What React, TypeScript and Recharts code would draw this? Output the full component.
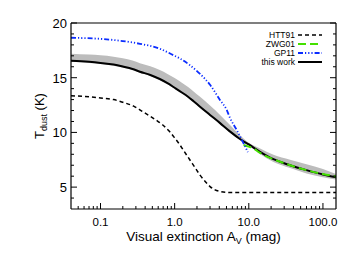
import React from 'react';
import { ComposedChart, Line, Area, XAxis, YAxis, Legend, Label } from 'recharts';

const FONT = '"Liberation Sans", Arial, Helvetica, sans-serif';

// HTT91 (black dashed)
const htt91Av = [0.04, 0.07, 0.1, 0.15, 0.2, 0.28, 0.36, 0.45, 0.57, 0.7, 0.86, 1.0, 1.18, 1.35, 1.6, 1.9, 2.2, 2.6, 3.0, 3.5, 4.1, 4.8, 5.5, 10, 150];
const htt91T = [13.35, 13.25, 13.15, 13.0, 12.75, 12.4, 11.95, 11.55, 11.1, 10.65, 10.05, 9.5, 8.85, 8.25, 7.5, 6.75, 6.1, 5.5, 5.05, 4.75, 4.6, 4.52, 4.5, 4.5, 4.5];

// this work (black solid) + grey uncertainty band
const workAv = [0.04, 0.07, 0.1, 0.15, 0.2, 0.27, 0.34, 0.47, 0.63, 0.8, 1.0, 1.25, 1.5, 1.8, 2.2, 3.0, 4.1, 5.5, 7.6, 10, 14, 21.5, 36, 60, 100, 150];
const workT = [16.55, 16.45, 16.35, 16.2, 16.02, 15.8, 15.55, 15.25, 14.88, 14.5, 14.08, 13.65, 13.28, 12.85, 12.35, 11.6, 10.85, 10.12, 9.4, 8.9, 8.25, 7.55, 7.0, 6.55, 6.15, 5.9];
const bandLow = [16.45, 16.35, 16.25, 16.1, 15.92, 15.7, 15.45, 15.15, 14.78, 14.4, 13.98, 13.55, 13.18, 12.75, 12.25, 11.5, 10.75, 10.02, 9.3, 8.8, 8.05, 7.3, 6.75, 6.25, 5.9, 5.7];
const bandHigh = [17.2, 17.12, 17.05, 16.92, 16.77, 16.57, 16.33, 16.05, 15.7, 15.35, 14.98, 14.55, 14.18, 13.75, 13.25, 12.45, 11.6, 10.72, 9.75, 9.05, 8.55, 7.95, 7.5, 7.1, 6.65, 6.2];

// GP11 (blue dash-dot-dot)
const gp11Av = [0.04, 0.1, 0.2, 0.34, 0.63, 1.0, 1.18, 1.6, 2.2, 3.0, 4.1, 5.0, 5.6, 6.9, 8.5, 9.7];
const gp11T = [18.65, 18.55, 18.35, 18.1, 17.65, 17.0, 16.75, 16.15, 15.35, 14.35, 12.95, 12.1, 11.3, 10.2, 9.0, 8.2];

// ZWG01 (green dashed)
const zwgAv = [8.5, 10, 11.5, 14, 21.5, 36, 60, 100, 150];
const zwgT = [8.85, 8.7, 8.55, 8.15, 7.55, 7.0, 6.55, 6.2, 5.97];

const X_MAJOR = [0.1, 1, 10, 100];
const X_MAJOR_LABELS = ['0.1', '1.0', '10.0', '100.0'];
const X_MINOR = [0.05, 0.06, 0.07, 0.08, 0.09, 0.2, 0.3, 0.4, 0.5, 0.6, 0.7, 0.8, 0.9, 2, 3, 4, 5, 6, 7, 8, 9, 20, 30, 40, 50, 60, 70, 80, 90];
const Y_MAJOR = [5, 10, 15, 20];
const Y_MINOR = [4, 6, 7, 8, 9, 11, 12, 13, 14, 16, 17, 18, 19];

const xTicks = [...X_MAJOR, ...X_MINOR].sort((a, b) => a - b);
const yTicks = [...Y_MAJOR, ...Y_MINOR].sort((a, b) => a - b);

const LEGEND_NAMES = ['HTT91', 'ZWG01', 'GP11', 'this work'];
const LEGEND_COLORS = ['#000000', '#44e000', '#0a2cff', '#000000'];
const LEGEND_DASH = ['4 3', '8 4', '5 2 1.2 2 1.2 2 1.2 2', undefined];
const LEGEND_WIDTH = [1.5, 2, 1.8, 2];

const toPoints = (av: number[], t: number[]) => av.map((a, i) => ({ av: a, t: t[i] }));

const htt91Data = toPoints(htt91Av, htt91T);
const workData = toPoints(workAv, workT);
const bandData = workAv.map((a, i) => ({ av: a, range: [bandLow[i], bandHigh[i]] }));
const gp11Data = toPoints(gp11Av, gp11T);
const zwgData = toPoints(zwgAv, zwgT);

function XTick(props: any) {
  const { x, y, payload, side } = props;
  const idx = X_MAJOR.indexOf(payload.value);
  const len = idx >= 0 ? 6 : 3;
  const dir = side === 'top' ? 1 : -1;
  return (
    <g>
      <line x1={x} x2={x} y1={y} y2={y + dir * len} stroke="#000" strokeWidth={1} />
      {side === 'bottom' && idx >= 0 && (
        <text x={x} y={y + 17} textAnchor="middle" fontSize={11.5} fontFamily={FONT} fill="#000">
          {X_MAJOR_LABELS[idx]}
        </text>
      )}
    </g>
  );
}

function YTick(props: any) {
  const { x, y, payload, side } = props;
  const major = Y_MAJOR.includes(payload.value);
  const len = major ? 6 : 3;
  const dir = side === 'right' ? -1 : 1;
  return (
    <g>
      <line x1={x} x2={x + dir * len} y1={y} y2={y} stroke="#000" strokeWidth={1} />
      {side === 'left' && major && (
        <text x={x - 4} y={y + 5} textAnchor="end" fontSize={13} fontFamily={FONT} fill="#000">
          {payload.value}
        </text>
      )}
    </g>
  );
}

function XLabel(props: any) {
  const { viewBox } = props;
  const cx = viewBox.x + viewBox.width / 2;
  return (
    <text x={cx} y={viewBox.y + 32} textAnchor="middle" fontSize={13.5} fontFamily={FONT} fill="#000">
      Visual extinction A<tspan fontSize={9} dy={3}>V</tspan>
      <tspan dy={-3}> (mag)</tspan>
    </text>
  );
}

function YLabel(props: any) {
  const { viewBox } = props;
  const cx = 44;
  const cy = viewBox.y + viewBox.height / 2;
  return (
    <text x={cx} y={cy} transform={`rotate(-90, ${cx}, ${cy})`} textAnchor="middle" fontSize={13} fontFamily={FONT} fill="#000">
      T<tspan fontSize={9} dy={3}>dust</tspan>
      <tspan dy={-3}> (K)</tspan>
    </text>
  );
}

function LegendBox() {
  return (
    <svg width={100} height={40}>
      {LEGEND_NAMES.map((name, i) => {
        const cy = 5 + i * 9;
        return (
          <g key={name}>
            <text x={55} y={cy + 3} textAnchor="end" fontSize={8.5} fontFamily={FONT} fill="#000">
              {name}
            </text>
            <line
              x1={58}
              x2={82}
              y1={cy}
              y2={cy}
              stroke={LEGEND_COLORS[i]}
              strokeWidth={LEGEND_WIDTH[i]}
              strokeDasharray={LEGEND_DASH[i]}
            />
          </g>
        );
      })}
    </svg>
  );
}

export default function App() {
  return (
    <div style={{ position: 'absolute', left: 0, top: 0, background: '#fff' }}>
      <ComposedChart width={357} height={255} margin={{ top: 22, right: 20, bottom: 16, left: 31 }}>
        <XAxis
          dataKey="av"
          type="number"
          scale="log"
          domain={[0.04, 150]}
          allowDataOverflow
          ticks={xTicks}
          interval={0}
          tickLine={false}
          tickSize={0}
          tickMargin={0}
          height={30}
          axisLine={{ stroke: '#000', strokeWidth: 1.2 }}
          tick={(p: any) => <XTick {...p} side="bottom" />}
        >
          <Label content={XLabel} />
        </XAxis>
        <XAxis
          xAxisId="top"
          orientation="top"
          type="number"
          scale="log"
          domain={[0.04, 150]}
          allowDataOverflow
          ticks={xTicks}
          interval={0}
          tickLine={false}
          tickSize={0}
          tickMargin={0}
          height={1}
          axisLine={{ stroke: '#000', strokeWidth: 1.2 }}
          tick={(p: any) => <XTick {...p} side="top" />}
        />
        <YAxis
          type="number"
          domain={[3, 20]}
          allowDataOverflow
          ticks={yTicks}
          interval={0}
          tickLine={false}
          tickSize={0}
          tickMargin={0}
          width={40}
          axisLine={{ stroke: '#000', strokeWidth: 1.2 }}
          tick={(p: any) => <YTick {...p} side="left" />}
        >
          <Label content={YLabel} />
        </YAxis>
        <YAxis
          yAxisId="right"
          orientation="right"
          type="number"
          domain={[3, 20]}
          allowDataOverflow
          ticks={yTicks}
          interval={0}
          tickLine={false}
          tickSize={0}
          tickMargin={0}
          width={1}
          axisLine={{ stroke: '#000', strokeWidth: 1.2 }}
          tick={(p: any) => <YTick {...p} side="right" />}
        />
        <Legend
          layout="vertical"
          align="center"
          verticalAlign="middle"
          content={LegendBox}
          wrapperStyle={{ left: 240, top: 30, width: 100, height: 40 }}
        />
        <Area
          data={bandData}
          dataKey="range"
          type="monotone"
          stroke="none"
          fill="#bcbcbc"
          fillOpacity={1}
          isAnimationActive={false}
          legendType="none"
        />
        <Line
          data={htt91Data}
          dataKey="t"
          type="monotone"
          stroke="#000"
          strokeWidth={1.5}
          strokeDasharray="4 3"
          dot={false}
          isAnimationActive={false}
        />
        <Line
          data={workData}
          dataKey="t"
          type="monotone"
          stroke="#000"
          strokeWidth={2}
          dot={false}
          isAnimationActive={false}
        />
        <Line
          data={zwgData}
          dataKey="t"
          type="monotone"
          stroke="#44e000"
          strokeWidth={2}
          strokeDasharray="8 4"
          dot={false}
          isAnimationActive={false}
        />
        <Line
          data={gp11Data}
          dataKey="t"
          type="monotone"
          stroke="#0a2cff"
          strokeWidth={1.8}
          strokeDasharray="5 2 1.2 2 1.2 2 1.2 2"
          dot={false}
          isAnimationActive={false}
        />
      </ComposedChart>
    </div>
  );
}
